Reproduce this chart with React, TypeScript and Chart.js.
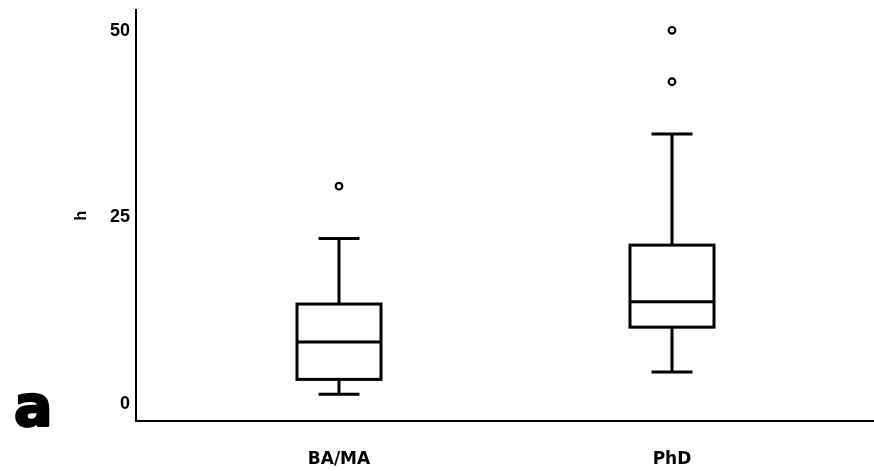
import React, { useEffect, useRef } from "react";
import { Chart, registerables } from "chart.js";

Chart.register(...registerables);

const categories = ["BA/MA", "PhD"];
const xPositions = [1, 2];
const whiskerLow = [1.3, 4.3];
const q1 = [3.3, 10.3];
const median = [8.3, 13.7];
const q3 = [13.4, 21.3];
const whiskerHigh = [22.2, 36.2];
const outliersBAMA = [29.2];
const outliersPhD = [43.2, 50.1];
const yTicks = [0, 25, 50];
const yTitle = "h";
const panelLetter = "a";

const boxPlugin = {
  id: "boxes",
  beforeDatasetsDraw(chart: any) {
    const ctx = chart.ctx;
    const xs = chart.scales.x;
    const ys = chart.scales.y;
    const halfBox = 42;
    const halfCap = 20.5;
    ctx.save();
    ctx.strokeStyle = "#000";
    ctx.lineWidth = 3;
    ctx.lineCap = "butt";
    for (let i = 0; i < categories.length; i++) {
      const cx = xs.getPixelForValue(xPositions[i]);
      const yLo = ys.getPixelForValue(whiskerLow[i]);
      const yQ1 = ys.getPixelForValue(q1[i]);
      const yMed = ys.getPixelForValue(median[i]);
      const yQ3 = ys.getPixelForValue(q3[i]);
      const yHi = ys.getPixelForValue(whiskerHigh[i]);
      ctx.beginPath();
      ctx.moveTo(cx, yQ3);
      ctx.lineTo(cx, yHi);
      ctx.moveTo(cx - halfCap, yHi);
      ctx.lineTo(cx + halfCap, yHi);
      ctx.moveTo(cx, yQ1);
      ctx.lineTo(cx, yLo);
      ctx.moveTo(cx - halfCap, yLo);
      ctx.lineTo(cx + halfCap, yLo);
      ctx.stroke();
      ctx.fillStyle = "#fff";
      ctx.fillRect(cx - halfBox, yQ3, halfBox * 2, yQ1 - yQ3);
      ctx.strokeRect(cx - halfBox, yQ3, halfBox * 2, yQ1 - yQ3);
      ctx.beginPath();
      ctx.moveTo(cx - halfBox, yMed);
      ctx.lineTo(cx + halfBox, yMed);
      ctx.stroke();
    }
    ctx.restore();
  },
  afterDraw(chart: any) {
    const ctx = chart.ctx;
    ctx.save();
    ctx.fillStyle = "#000";
    ctx.strokeStyle = "#000";
    ctx.lineWidth = 2.5;
    ctx.lineJoin = "round";
    ctx.font = "bold 57px 'DejaVu Sans'";
    ctx.textAlign = "left";
    ctx.textBaseline = "alphabetic";
    ctx.fillText(panelLetter, 14, 426);
    ctx.strokeText(panelLetter, 14, 426);
    ctx.restore();
  },
};

export default function App() {
  const ref = useRef<HTMLCanvasElement | null>(null);
  useEffect(() => {
    document.body.style.margin = "0";
    const canvas = ref.current!;
    const chart = new Chart(canvas, {
      type: "scatter",
      data: {
        datasets: [
          {
            label: "BA/MA outliers",
            data: outliersBAMA.map((v) => ({ x: xPositions[0], y: v })),
            pointRadius: 3.3,
            pointBorderWidth: 2.2,
            pointBackgroundColor: "#fff",
            pointBorderColor: "#000",
          },
          {
            label: "PhD outliers",
            data: outliersPhD.map((v) => ({ x: xPositions[1], y: v })),
            pointRadius: 3.3,
            pointBorderWidth: 2.2,
            pointBackgroundColor: "#fff",
            pointBorderColor: "#000",
          },
        ],
      },
      options: {
        animation: false,
        responsive: false,
        layout: { autoPadding: false, padding: { top: 10, right: 0, bottom: 0, left: 0 } },
        plugins: { legend: { display: false }, tooltip: { enabled: false } },
        scales: {
          x: {
            type: "linear",
            min: 0.3904,
            max: 2.6066,
            grid: { display: false, drawTicks: false },
            border: { display: true, color: "#000", width: 2 },
            afterBuildTicks: (s: any) => {
              s.ticks = xPositions.map((v) => ({ value: v }));
            },
            afterFit: (s: any) => {
              s.height = 50;
              s.paddingLeft = 0;
              s.paddingRight = 0;
            },
            ticks: {
              padding: 28,
              color: "#000",
              font: { family: "'DejaVu Sans'", size: 17, weight: "bold" },
              callback: (value: any) => {
                const i = xPositions.indexOf(Number(value));
                return i >= 0 ? categories[i] : "";
              },
            },
          },
          y: {
            type: "linear",
            min: -2.28,
            max: 52.82,
            grid: { display: false, drawTicks: false },
            border: { display: true, color: "#000", width: 2 },
            afterBuildTicks: (s: any) => {
              s.ticks = yTicks.map((v) => ({ value: v }));
            },
            afterFit: (s: any) => {
              s.width = 136;
              s.paddingTop = 0;
              s.paddingBottom = 0;
            },
            title: {
              display: true,
              text: yTitle,
              color: "#000",
              font: { family: "'Liberation Sans'", size: 16, weight: "bold" },
              padding: { top: 72, bottom: 0 },
            },
            ticks: {
              padding: 6,
              color: "#000",
              font: { family: "'Liberation Sans'", size: 18, weight: "bold" },
            },
          },
        },
      },
      plugins: [boxPlugin],
    });
    return () => chart.destroy();
  }, []);
  return (
    <div style={{ width: 874, height: 471, background: "#fff" }}>
      <canvas ref={ref} width={874} height={471} style={{ display: "block" }} />
    </div>
  );
}
